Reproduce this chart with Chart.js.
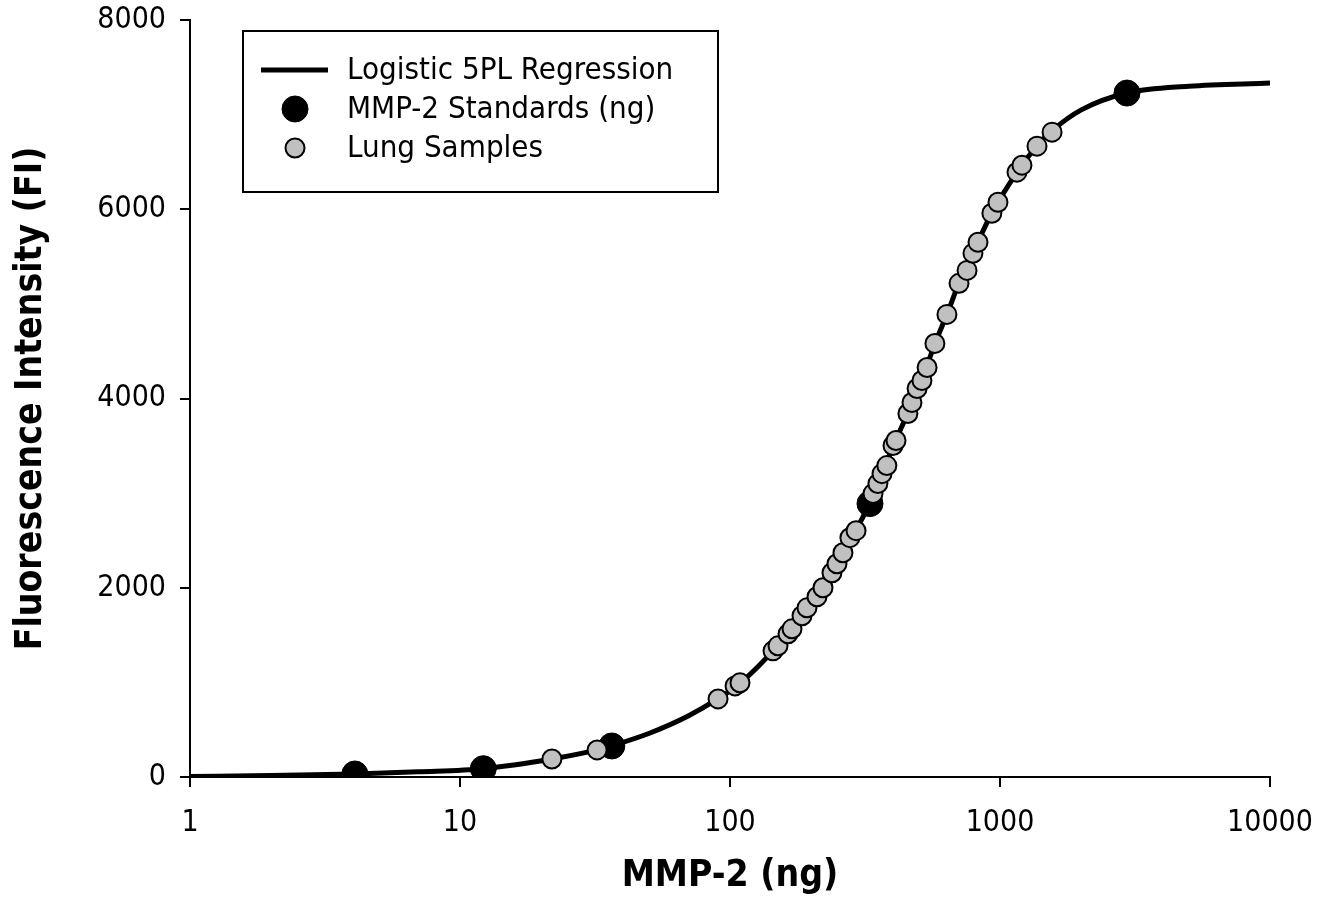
<!DOCTYPE html>
<html>
<head>
<meta charset="utf-8">
<script src="https://cdn.jsdelivr.net/npm/chart.js@4/dist/chart.umd.min.js"></script>
<style>
  html, body { margin: 0; padding: 0; background: #fff; }
  #wrap { width: 1336px; height: 901px; }
</style>
</head>
<body>
<div id="wrap"><canvas id="chart" width="1336" height="901"></canvas></div>
<script>
// fitted 5PL curve
const curveX = [1, 2, 4.08, 7, 12.2, 21.9, 32.2, 36.5, 50, 70, 90, 108.9, 150, 185, 221, 262, 293, 330, 365, 400, 456, 514, 574, 636, 705, 794, 933, 1156, 1371, 1559, 2000, 2953, 5000, 10000];
const curveY = [5, 15, 32, 55, 88, 190, 286, 330, 460, 645, 825, 990, 1386, 1710, 2000, 2370, 2610, 2900, 3200, 3480, 3850, 4200, 4580, 4890, 5220, 5540, 5960, 6390, 6670, 6830, 7050, 7228, 7300, 7333];

// MMP-2 standards
const stdX = [4.08, 12.2, 36.5, 330, 2953];
const stdY = [32, 88, 328, 2889, 7228];

// lung samples
const lungX = [21.9, 32.2, 90.3, 104.4, 108.9, 144.3, 150.6, 164, 169.7, 184.8, 192.8, 210, 221, 238.6, 249, 262, 278, 293, 338.6, 353, 365.6, 381, 401.5, 412, 456, 472, 493, 514, 537, 574, 636, 705, 755, 794, 829, 933, 983, 1156, 1206, 1371, 1559];
const lungY = [190, 286, 825, 963, 995, 1333, 1386, 1513, 1566, 1704, 1788, 1905, 2000, 2159, 2254, 2370, 2529, 2603, 2995, 3101, 3206, 3291, 3503, 3556, 3841, 3958, 4106, 4190, 4328, 4582, 4889, 5217, 5354, 5534, 5651, 5958, 6074, 6392, 6466, 6667, 6815];

const xTicks = [1, 10, 100, 1000, 10000];
const yTicks = [0, 2000, 4000, 6000, 8000];

const FONT = '"DejaVu Sans Condensed", "DejaVu Sans", sans-serif';

function pts(xs, ys) {
  return xs.map((x, i) => ({ x: x, y: ys[i] }));
}

// legend drawn as a boxed panel inside the plot, like the original
const boxLegend = {
  id: 'boxLegend',
  afterDraw(chart) {
    const ctx = chart.ctx;
    const ds = chart.data.datasets;
    ctx.save();
    ctx.strokeStyle = '#000';
    ctx.lineWidth = 2;
    ctx.strokeRect(243, 31, 475, 161);
    ctx.font = '31px ' + FONT;
    ctx.fillStyle = '#000';
    ctx.textBaseline = 'middle';
    ctx.textAlign = 'left';
    const rows = [70, 109, 148];
    ds.forEach((d, i) => {
      const y = rows[i];
      if (d.pointRadius === 0) {
        ctx.beginPath();
        ctx.moveTo(261, y);
        ctx.lineTo(328, y);
        ctx.lineWidth = d.borderWidth;
        ctx.strokeStyle = d.borderColor;
        ctx.stroke();
      } else {
        ctx.beginPath();
        ctx.arc(295, y, d.pointRadius, 0, Math.PI * 2);
        ctx.fillStyle = d.pointBackgroundColor;
        ctx.fill();
        ctx.lineWidth = d.pointBorderWidth;
        ctx.strokeStyle = '#000';
        ctx.stroke();
      }
      ctx.fillStyle = '#000';
      ctx.fillText(d.label, 347, y + 1);
    });
    ctx.restore();
  }
};

new Chart(document.getElementById('chart').getContext('2d'), {
  type: 'scatter',
  data: {
    datasets: [
      {
        label: 'Logistic 5PL Regression',
        type: 'line',
        data: pts(curveX, curveY),
        borderColor: '#000',
        borderWidth: 5,
        pointRadius: 0,
        fill: false,
        cubicInterpolationMode: 'monotone',
        order: 3
      },
      {
        label: 'MMP-2 Standards (ng)',
        data: pts(stdX, stdY),
        pointRadius: 13,
        pointBackgroundColor: '#000',
        pointBorderColor: '#000',
        pointBorderWidth: 1,
        order: 2
      },
      {
        label: 'Lung Samples',
        data: pts(lungX, lungY),
        pointRadius: 9.5,
        pointBackgroundColor: '#c0c0c0',
        pointBorderColor: '#000',
        pointBorderWidth: 2,
        order: 1
      }
    ]
  },
  options: {
    responsive: false,
    animation: false,
    devicePixelRatio: 1,
    layout: { padding: { top: 20, right: 66, bottom: 0, left: 0 } },
    plugins: {
      legend: { display: false },
      tooltip: { enabled: false }
    },
    scales: {
      x: {
        type: 'logarithmic',
        min: 1,
        max: 10000,
        afterBuildTicks: (s) => { s.ticks = xTicks.map(v => ({ value: v })); },
        afterFit: (s) => { s.height = 124; },
        grid: { drawOnChartArea: false, drawTicks: true, tickLength: 10, color: '#000', lineWidth: 2 },
        border: { display: true, color: '#000', width: 2 },
        ticks: {
          color: '#000', padding: 18, maxRotation: 0, autoSkip: false,
          font: { family: FONT, size: 30 },
          callback: (v) => String(v)
        },
        title: {
          display: true, text: 'MMP-2 (ng)', color: '#000',
          font: { family: FONT, size: 37, weight: 'bold' },
          padding: { top: 0, bottom: 2 }
        }
      },
      y: {
        min: 0,
        max: 8000,
        afterBuildTicks: (s) => { s.ticks = yTicks.map(v => ({ value: v })); },
        afterFit: (s) => { s.width = 190; s.paddingTop = 0; s.paddingBottom = 0; },
        grid: { drawOnChartArea: false, drawTicks: true, tickLength: 10, color: '#000', lineWidth: 2 },
        border: { display: true, color: '#000', width: 2 },
        ticks: {
          color: '#000', padding: 14,
          font: { family: FONT, size: 30 },
          callback: (v) => String(v)
        },
        title: {
          display: true, text: 'Fluorescence Intensity (FI)', color: '#000',
          font: { family: FONT, size: 37, weight: 'bold' },
          padding: { top: 9, bottom: 0 }
        }
      }
    }
  },
  plugins: [boxLegend]
});
</script>
</body>
</html>
